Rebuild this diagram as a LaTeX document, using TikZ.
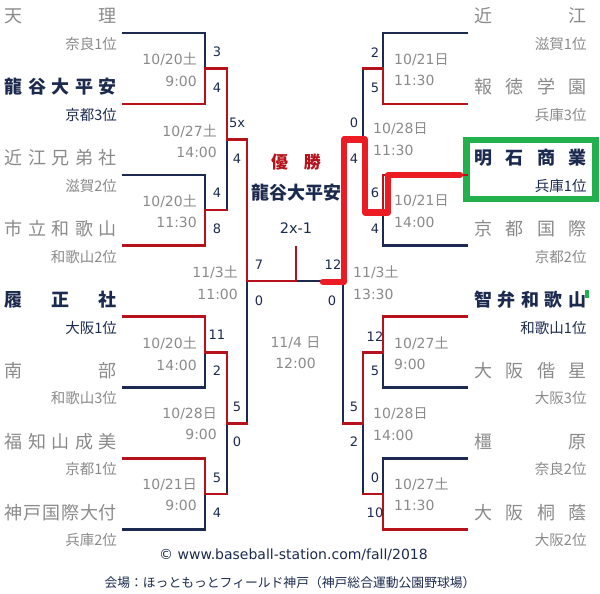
\documentclass[tikz,border=0pt]{standalone}
\usepackage{fontspec}
\setmainfont{DejaVu Sans}
\newfontfamily\jp{Noto Sans CJK JP}
\usetikzlibrary{positioning}
\definecolor{bnavy}{HTML}{1B2A4E}
\definecolor{bred}{HTML}{B5121B}
\definecolor{hlred}{HTML}{EC1C24}
\definecolor{bgreen}{HTML}{22B14C}
\definecolor{bgray}{HTML}{8A8A8A}
\newcommand{\tname}[1]{\makebox[112pt][s]{\spaceskip=0pt plus 1fil\relax #1}}
\newcommand{\trank}[1]{\makebox[112pt][r]{#1}}
\newcommand{\tdate}[3]{#1{\jp #2}\\#3}

\begin{document}
\begin{tikzpicture}[x=1pt, y=-1pt, node distance=28pt, on grid,
	team/.style={font=\jp\fontsize{18}{18}\selectfont, text=bgray, inner sep=0pt},
	seed/.style={team, font=\jp\bfseries\fontsize{18}{18}\selectfont, text=bnavy},
	rank/.style={font=\jp\fontsize{14.5}{14.5}\selectfont, text=bgray, inner sep=0pt},
	srank/.style={rank, text=bnavy},
	ldate/.style={font=\fontsize{14}{21.5}\selectfont, text=bgray, inner sep=0pt, anchor=east, align=right},
	rdate/.style={ldate, anchor=west, align=left},
	score/.style={font=\fontsize{13}{13}\selectfont, text=bnavy, inner sep=0pt},
	win/.style={draw=bred, line width=2.5pt, line cap=rect},
	lose/.style={draw=bnavy, line width=2.5pt, line cap=rect},
	hl/.style={draw=hlred, line width=6.5pt, line cap=round, line join=round},
	box/.style={draw=bgreen, line width=6.5pt, minimum width=129pt, minimum height=59pt, inner sep=0pt}]
	\useasboundingbox (0,0) rectangle (600,594);

	% left half
	\node[team] (1) at (61,16) {\tname{天 理}};
	\node[rank] (1r) [below=of 1] {\trank{奈良1位}};
	\node[seed] (2) [below=70.9pt of 1] {\tname{龍 谷 大 平 安}};
	\node[srank] (2r) [below=of 2] {\trank{京都3位}};
	\node[team] (3) [below=70.9pt of 2] {\tname{近 江 兄 弟 社}};
	\node[rank] (3r) [below=of 3] {\trank{滋賀2位}};
	\node[team] (4) [below=70.9pt of 3] {\tname{市 立 和 歌 山}};
	\node[rank] (4r) [below=of 4] {\trank{和歌山2位}};
	\node[seed] (5) [below=70.9pt of 4] {\tname{履 正 社}};
	\node[srank] (5r) [below=of 5] {\trank{大阪1位}};
	\node[team] (6) [below=70.9pt of 5] {\tname{南 部}};
	\node[rank] (6r) [below=of 6] {\trank{和歌山3位}};
	\node[team] (7) [below=70.9pt of 6] {\tname{福 知 山 成 美}};
	\node[rank] (7r) [below=of 7] {\trank{京都1位}};
	\node[team] (8) [below=70.9pt of 7] {\tname{神 戸 国 際 大 付}};
	\node[rank] (8r) [below=of 8] {\trank{兵庫2位}};

	% right half
	\node[box] (box) at (531,169.5) {};
	\node[team] (9) at (530.5,16) {\tname{近 江}};
	\node[rank] (9r) [below=of 9] {\trank{滋賀1位}};
	\node[team] (10) [below=70.9pt of 9] {\tname{報 徳 学 園}};
	\node[rank] (10r) [below=of 10] {\trank{兵庫3位}};
	\node[seed] (11) [below=70.9pt of 10] {\tname{明 石 商 業}};
	\node[srank] (11r) [below=of 11] {\trank{兵庫1位}};
	\node[team] (12) [below=70.9pt of 11] {\tname{京 都 国 際}};
	\node[rank] (12r) [below=of 12] {\trank{京都2位}};
	\node[seed] (13) [below=70.9pt of 12] {\tname{智 弁 和 歌 山}};
	\node[srank] (13r) [below=of 13] {\trank{和歌山1位}};
	\node[team] (14) [below=70.9pt of 13] {\tname{大 阪 偕 星}};
	\node[rank] (14r) [below=of 14] {\trank{大阪3位}};
	\node[team] (15) [below=70.9pt of 14] {\tname{橿 原}};
	\node[rank] (15r) [below=of 15] {\trank{奈良2位}};
	\node[team] (16) [below=70.9pt of 15] {\tname{大 阪 桐 蔭}};
	\node[rank] (16r) [below=of 16] {\trank{大阪2位}};
	\fill[bgreen] (585,290) rectangle (589,298);

	% bracket points
	\coordinate[below right=17pt and 62pt of 1] (la1);
	\coordinate[below right=17pt and 62pt of 2] (la2);
	\coordinate[below right=17pt and 62pt of 3] (la3);
	\coordinate[below right=17pt and 62pt of 4] (la4);
	\coordinate[below right=17pt and 62pt of 5] (la5);
	\coordinate[below right=17pt and 62pt of 6] (la6);
	\coordinate[below right=17pt and 62pt of 7] (la7);
	\coordinate[below right=17pt and 62pt of 8] (la8);
	\coordinate[below left=17pt and 63.5pt of 9] (ra1);
	\coordinate[below left=17pt and 63.5pt of 10] (ra2);
	\coordinate[below left=17pt and 63.5pt of 11] (ra3);
	\coordinate[below left=17pt and 63.5pt of 12] (ra4);
	\coordinate[below left=17pt and 63.5pt of 13] (ra5);
	\coordinate[below left=17pt and 63.5pt of 14] (ra6);
	\coordinate[below left=17pt and 63.5pt of 15] (ra7);
	\coordinate[below left=17pt and 63.5pt of 16] (ra8);
	\coordinate (lk1) at (205,68.5);
	\coordinate (lk2) at (205,210);
	\coordinate (lk3) at (205,352.5);
	\coordinate (lk4) at (205,494);
	\coordinate (ls1) at (227,139.5);
	\coordinate (ls2) at (227,423.5);
	\coordinate (lf) at (247,281);
	\coordinate (rk1) at (383,68.5);
	\coordinate (rk2) at (383,210);
	\coordinate (rk3) at (383,352.5);
	\coordinate (rk4) at (383,494);
	\coordinate (rs1) at (363,139.5);
	\coordinate (rs2) at (363,423.5);
	\coordinate (rf) at (343,281);
	\coordinate (w) at (296,281);
	\coordinate (c) at (296,247);

	% losers
	\draw[lose] (la1) -| (lk1);
	\draw[lose] (la3) -| (lk2);
	\draw[lose] (lk2 -| ls1) -- (ls1);
	\draw[lose] (ls2 -| lf) -- (lf);
	\draw[lose] (la6) -| (lk3);
	\draw[lose] (lk4 -| ls2) -- (ls2);
	\draw[lose] (la8) -| (lk4);
	\draw[lose] (ra1) -| (rk1);
	\draw[lose] (rk1 -| rs1) -- (rs1);
	\draw[lose] (rs1 -| rf) -- (rf) -- (w);
	\draw[lose] (ra4) -| (rk2);
	\draw[lose] (rs2 -| rf) -- (rf);
	\draw[lose] (ra6) -| (rk3);
	\draw[lose] (ra7) -| (rk4);
	\draw[lose] (rk4 -| rs2) -- (rs2);
	% winners
	\draw[win] (la2) -| (lk1) -| (ls1) -| (lf) -- (w) -- (c);
	\draw[win] (la4) -| (lk2) -- (lk2 -| ls1);
	\draw[win] (la5) -| (lk3) -| (ls2) -- (ls2 -| lf);
	\draw[win] (la7) -| (lk4) -- (lk4 -| ls2);
	\draw[win] (ra2) -| (rk1) -- (rk1 -| rs1);
	\draw[win] (ra3) -| (rk2) -| (rs1) -- (rs1 -| rf);
	\draw[win] (ra5) -| (rk3) -| (rs2) -- (rs2 -| rf);
	\draw[win] (ra8) -| (rk4) -- (rk4 -| rs2);

	% marker
	\coordinate (h) at (323,282);
	\coordinate (h2) at (388,175);
	\draw[hl, shorten >=3.25pt] (h) -- (344,282) -- (344,139.5) -- (365,139.5) -- (365,212.5) -- (388,212.5) -- (h2) -- (h2 -| box.west);

	% scores
	\node[score] (sc1) at (217,52) {3};
	\node[score] (sc2) at (217,88) {4};
	\node[score] (sc3) at (237,123) {5x};
	\node[score] (sc4) at (237,159) {4};
	\node[score] (sc5) at (217,193) {4};
	\node[score] (sc6) at (217,229) {8};
	\node[score] (sc7) at (259,265) {7};
	\node[score] (sc8) at (259,301) {0};
	\node[score] (sc9) at (217,335) {11};
	\node[score] (sc10) at (217,371) {2};
	\node[score] (sc11) at (237,407) {5};
	\node[score] (sc12) at (237,442) {0};
	\node[score] (sc13) at (217,478) {5};
	\node[score] (sc14) at (217,513) {4};
	\node[score] (sc15) at (375,53) {2};
	\node[score] (sc16) at (375,88) {5};
	\node[score] (sc17) at (354,123) {0};
	\node[score] (sc18) at (354,159) {4};
	\node[score] (sc19) at (375,193) {6};
	\node[score] (sc20) at (375,229) {4};
	\node[score] (sc21) at (333,265) {12};
	\node[score] (sc22) at (332,301) {0};
	\node[score] (sc23) at (375,337) {12};
	\node[score] (sc24) at (375,371) {5};
	\node[score] (sc25) at (354,407) {5};
	\node[score] (sc26) at (354,442) {2};
	\node[score] (sc27) at (375,478) {0};
	\node[score] (sc28) at (375,513) {10};

	% dates
	\node[ldate] (dt1) at (197,69.5) {\tdate{10/20}{土}{9:00}};
	\node[ldate] (dt2) at (217,141) {\tdate{10/27}{土}{14:00}};
	\node[ldate] (dt3) at (197,211) {\tdate{10/20}{土}{11:30}};
	\node[ldate] (dt4) at (238,282.5) {\tdate{11/3}{土}{11:00}};
	\node[ldate] (dt5) at (197,353.5) {\tdate{10/20}{土}{14:00}};
	\node[ldate] (dt6) at (217,423.5) {\tdate{10/28}{日}{9:00}};
	\node[ldate] (dt7) at (197,494.5) {\tdate{10/21}{日}{9:00}};
	\node[rdate] (dt8) at (394,69.5) {\tdate{10/21}{日}{11:30}};
	\node[rdate] (dt9) at (373,139) {\tdate{10/28}{日}{11:30}};
	\node[rdate] (dt10) at (394,211) {\tdate{10/21}{日}{14:00}};
	\node[rdate] (dt11) at (353,282.5) {\tdate{11/3}{土}{13:30}};
	\node[rdate] (dt12) at (394,353) {\tdate{10/27}{土}{9:00}};
	\node[rdate] (dt13) at (373,424) {\tdate{10/28}{日}{14:00}};
	\node[rdate] (dt14) at (394,494) {\tdate{10/27}{土}{11:30}};
	\node[ldate, anchor=center, align=center] (dt15) at (295.5,352.5) {11/4 {\jp 日}\\12:00};

	% champion
	\node[font=\jp\bfseries\fontsize{17}{17}\selectfont, text=bred, inner sep=0pt] (yu) at (296,162) {優\hspace{16pt}勝};
	\node[seed] (champ) at (296,193) {龍谷大平安};
	\node[score, font=\fontsize{14.5}{14.5}\selectfont] (fs) at (296,228) {2x-1};

	% footer
	\node[font=\fontsize{14}{14}\selectfont, text=bnavy] (url) at (293.5,555) {© www.baseball-station.com/fall/2018};
	\node[font=\jp\fontsize{12.8}{12.8}\selectfont, text=bnavy] (venue) at (290,583) {会場：ほっともっとフィールド神戸（神戸総合運動公園野球場）};
\end{tikzpicture}
\end{document}
